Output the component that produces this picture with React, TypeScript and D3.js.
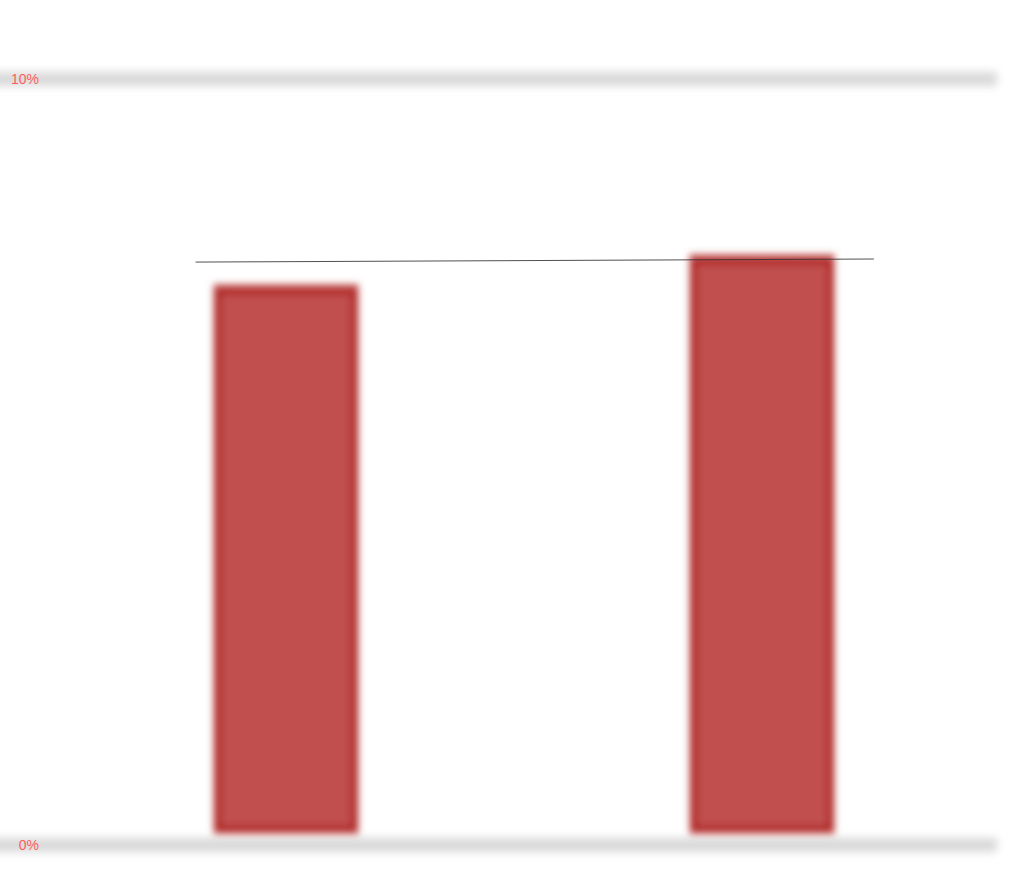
import { useEffect, useRef } from 'react'
import * as d3 from 'd3'

const width = 1024
const height = 891

// two bars, no category labels shown in the picture
const categories = ['A', 'B']
const barValues = [0.0732, 0.0771]

// gridline ticks and their labels
const tickValues = [0, 0.1]
const tickLabels = ['0%', '10%']

// thin trend line, endpoints given as category position (0 = first bar, 1 = second)
const trendPositions = [-0.19, 1.235]
const trendValues = [0.0761, 0.0765]

export default function App() {
  const svgRef = useRef<SVGSVGElement>(null)

  useEffect(() => {
    if (!svgRef.current) return
    const svg = d3.select(svgRef.current)
    svg.selectAll('*').remove()

    const defs = svg.append('defs')
    defs
      .append('filter')
      .attr('id', 'blurGrid')
      .attr('filterUnits', 'userSpaceOnUse')
      .attr('x', -20)
      .attr('y', 0)
      .attr('width', width + 40)
      .attr('height', height)
      .append('feGaussianBlur')
      .attr('stdDeviation', 4)
    defs
      .append('filter')
      .attr('id', 'blurBar')
      .attr('filterUnits', 'userSpaceOnUse')
      .attr('x', 0)
      .attr('y', 0)
      .attr('width', width)
      .attr('height', height)
      .append('feGaussianBlur')
      .attr('stdDeviation', 3.8)

    const y = d3.scaleLinear().domain([0, 0.1]).range([845, 79])
    const x = d3.scalePoint<string>().domain(categories).range([48, 1000]).padding(0.5)
    const xPos = d3
      .scaleLinear()
      .domain([0, 1])
      .range([x(categories[0]) as number, x(categories[1]) as number])

    const barWidth = 145
    const baseGap = 11

    // gridlines (blurred bands)
    svg
      .append('g')
      .attr('filter', 'url(#blurGrid)')
      .selectAll('rect')
      .data(tickValues)
      .enter()
      .append('rect')
      .attr('x', -15)
      .attr('width', 1012)
      .attr('y', (d) => y(d) - 7)
      .attr('height', 14)
      .attr('fill', '#d9d9d9')

    // tick labels
    svg
      .append('g')
      .selectAll('text')
      .data(tickValues)
      .enter()
      .append('text')
      .attr('x', 39)
      .attr('y', (d) => y(d) + 5)
      .attr('text-anchor', 'end')
      .attr('fill', '#ff5e5e')
      .style('font-family', '"Liberation Sans", Arial, sans-serif')
      .style('font-size', '14px')
      .text((_d, i) => tickLabels[i])

    // bars
    const bars = svg.append('g').attr('filter', 'url(#blurBar)')
    bars
      .selectAll('rect.bar')
      .data(barValues)
      .enter()
      .append('rect')
      .attr('class', 'bar')
      .attr('x', (_d, i) => (x(categories[i]) as number) - barWidth / 2)
      .attr('y', (d) => y(d))
      .attr('width', barWidth)
      .attr('height', (d) => y(0) - baseGap - y(d))
      .attr('fill', '#c0504d')
    // darker edge strokes on the sides
    bars
      .selectAll('rect.edge')
      .data(barValues)
      .enter()
      .append('rect')
      .attr('class', 'edge')
      .attr('x', (_d, i) => (x(categories[i]) as number) - barWidth / 2 + 5)
      .attr('y', (d) => y(d) + 8)
      .attr('width', barWidth - 10)
      .attr('height', (d) => y(0) - baseGap - y(d) - 14)
      .attr('fill', 'none')
      .attr('stroke', '#a80000')
      .attr('stroke-width', 4)
      .attr('stroke-opacity', 0.9)

    // trend line
    const line = d3
      .line<number>()
      .x((_d, i) => xPos(trendPositions[i]))
      .y((d) => y(d))
    svg
      .append('path')
      .datum(trendValues)
      .attr('fill', 'none')
      .attr('stroke', '#333')
      .attr('stroke-opacity', 0.85)
      .attr('stroke-width', 1)
      .attr('d', line)
  }, [])

  return (
    <svg
      ref={svgRef}
      width={width}
      height={height}
      style={{ position: 'absolute', left: 0, top: 0, background: '#fff' }}
    />
  )
}
